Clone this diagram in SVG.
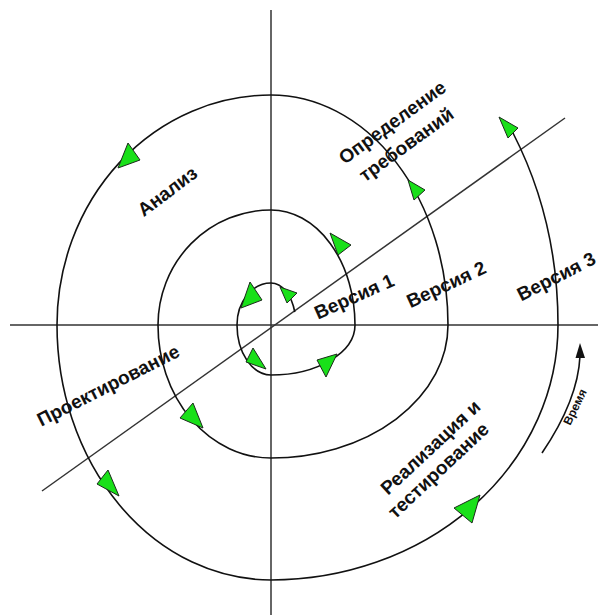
<svg xmlns="http://www.w3.org/2000/svg" width="598" height="615" viewBox="0 0 598 615">
<style>
.axis{stroke:#333;stroke-width:1.5;fill:none}
.spiral{stroke:#111;stroke-width:1.6;fill:none}
.tri{fill:#19e019;stroke:#1c2a1c;stroke-width:1;stroke-linejoin:round}
.lbl{font-family:"Liberation Sans",Arial,sans-serif;font-weight:bold;font-size:19px;fill:#111;text-anchor:middle}
.small{font-size:12px}
</style>
<rect width="598" height="615" fill="#fff"/>
<g id="connectors">
<line class="axis" x1="271" y1="10" x2="271" y2="615"/>
<line class="axis" x1="10" y1="325" x2="598" y2="325"/>
<line class="axis" x1="42" y1="491" x2="565" y2="118" stroke-width="1.3"/>
<path class="spiral" d="M 294.8 312 A 25 42 0 0 0 271 283 A 34 42 0 0 0 237 325 A 34 50 0 0 0 271 375 A 84 50 0 0 0 355 325 A 84 115 0 0 0 271 210 A 113 115 0 0 0 158 325 A 113 133 0 0 0 271 458 A 177 133 0 0 0 448 325 A 177 230 0 0 0 271 95 A 214 230 0 0 0 57 325 A 214 255 0 0 0 271 580 A 287 255 0 0 0 558 325 A 287 357 0 0 0 513 133"/>
<path class="spiral" d="M 542 453 Q 578 400 580 356" stroke-width="1.3"/>
<polygon points="580,343 575.5,358 585,358" fill="#111"/>
</g>
<g id="arrows">
<polygon class="tri" points="128,143 140,160 118,168"/>
<polygon class="tri" points="330,233 351,245 338,255"/>
<polygon class="tri" points="408,180 425,190 414,200"/>
<polygon class="tri" points="499,117 518,128 508,138"/>
<polygon class="tri" points="480,495 454,508 472,523"/>
<polygon class="tri" points="250,282 262,300 241,308"/>
<polygon class="tri" points="280,287 297,293 287,303"/>
<polygon class="tri" points="253,348 266,369 246,362"/>
<polygon class="tri" points="317,360 337,354 326,377"/>
<polygon class="tri" points="180,418 193,403 203,428"/>
<polygon class="tri" points="97,484 108,470 119,496"/>
</g>
<g id="analiz"><text class="lbl" x="167" y="198" transform="rotate(-37 167 191)">Анализ</text></g>
<g id="requirements">
<text class="lbl" x="392" y="129" transform="rotate(-36 392 122)">Определение</text>
<text class="lbl" x="406" y="151" transform="rotate(-36 406 144)">требований</text>
</g>
<g id="v1"><text class="lbl" x="354" y="303" transform="rotate(-24 354 296)">Версия 1</text></g>
<g id="v2"><text class="lbl" x="446" y="291" transform="rotate(-25 446 284)">Версия 2</text></g>
<g id="v3"><text class="lbl" x="556" y="283" transform="rotate(-27 556 276)">Версия 3</text></g>
<g id="design"><text class="lbl" x="108" y="392" transform="rotate(-27 108 385)">Проектирование</text></g>
<g id="impl">
<text class="lbl" x="430" y="454" transform="rotate(-43 430 447)">Реализация и</text>
<text class="lbl" x="438" y="477" transform="rotate(-43 438 470)">тестирование</text>
</g>
<g id="time"><text class="lbl small" x="575" y="411" transform="rotate(-64 575 407)">Время</text></g>
</svg>
